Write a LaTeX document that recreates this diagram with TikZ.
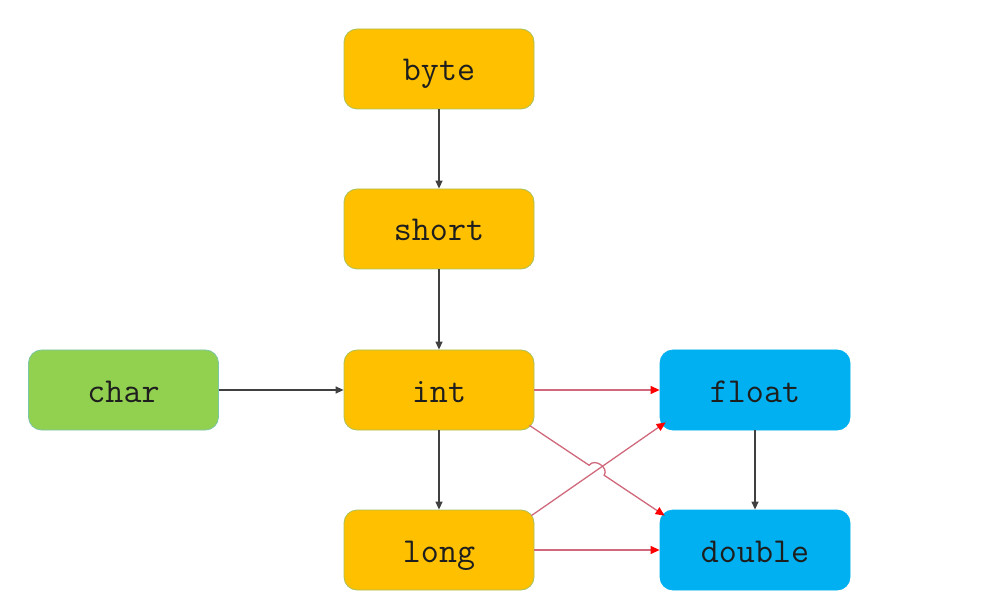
\documentclass[tikz,border=0pt]{standalone}
\usetikzlibrary{arrows.meta,calc,intersections}
\definecolor{yel}{HTML}{FFC000}
\definecolor{yelb}{HTML}{A9C05A}
\definecolor{grn}{HTML}{92D050}
\definecolor{grnb}{HTML}{7CC6A8}
\definecolor{blu}{HTML}{00B0F0}
\definecolor{dk}{HTML}{404040}
\definecolor{pk}{HTML}{D0697C}
\definecolor{txt}{HTML}{1E1E1E}
\tikzset{
  typebox/.style={rounded corners=13pt, minimum width=190pt, minimum height=80pt,
    inner sep=0pt, text height=24pt, text depth=0pt,
    font=\ttfamily\fontsize{35}{40}\selectfont, text=txt, line width=0.8pt},
  ybox/.style={typebox, fill=yel, draw=yelb},
  gbox/.style={typebox, fill=grn, draw=grnb},
  bbox/.style={typebox, fill=blu, draw=blu},
  darr/.style={draw=dk, line width=1.3pt, -{Triangle[length=8pt,width=7pt]}},
  rarr/.style={draw=pk, line width=1.3pt, -{Triangle[length=9pt,width=8pt,color=red,fill=red]}}
}
\begin{document}
\begin{tikzpicture}[x=1pt,y=-1pt]
\useasboundingbox (0,0) rectangle (982,609);
\node[ybox] (byte) at (439,69) {byte};
\node[ybox] (short) at (439,229) {short};
\node[ybox] (int) at (439,390) {int};
\node[ybox] (long) at (439,550) {long};
\node[gbox] (char) at (123.5,390) {char};
\node[bbox] (float) at (755,390) {float};
\node[bbox] (double) at (755,550) {double};

\draw[darr] (byte) -- (short);
\draw[darr] (short) -- (int);
\draw[darr] (int) -- (long);
\draw[darr] (char) -- (int);
\draw[darr] (float) -- (double);

\draw[rarr] (int) -- (float);
\draw[rarr] (long) -- (double);

\coordinate (a1) at ($(int.south east)+(-5,-5)$);
\coordinate (a2) at ($(double.north west)+(5,6)$);
\coordinate (b1) at ($(long.north east)+(-3,6)$);
\coordinate (b2) at ($(float.south west)+(6,-8)$);
\path[name path=pa] (a1) -- (a2);
\path[name path=pb] (b1) -- (b2);
\path[name intersections={of=pa and pb, by=X}];
\coordinate (p1) at ($(X)!9pt!(a1)$);
\coordinate (p2) at ($(X)!9pt!(a2)$);
\draw[rarr] (b1) -- (b2);
\draw[rarr] (a1) -- (p1) to[bend left=90, looseness=1.3] (p2) -- (a2);
\end{tikzpicture}
\end{document}
